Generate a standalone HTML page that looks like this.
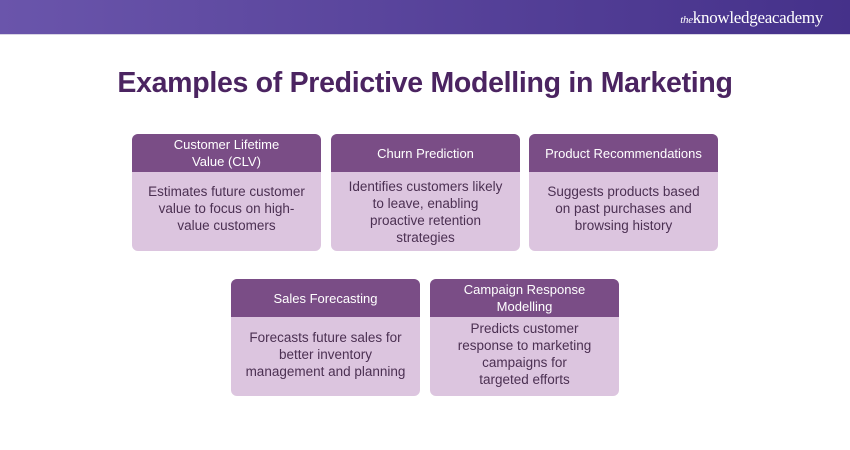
<!DOCTYPE html>
<html><head><meta charset="utf-8"><style>
*{margin:0;padding:0;box-sizing:border-box}
body{width:850px;height:450px;background:#fff;font-family:"Liberation Sans",sans-serif;position:relative;overflow:hidden}
.top{position:absolute;left:0;top:0;width:850px;height:35px;background:linear-gradient(90deg,#6a55ab,#45318a);border-bottom:1px solid #d8d4e4}
.logo{position:absolute;right:27px;top:8px;color:#fff;font-family:"Liberation Serif",serif;font-size:17px;letter-spacing:-0.3px}
.logo i{font-size:11px}
h1{position:absolute;left:0;width:850px;top:67px;text-align:center;font-size:28.5px;font-weight:bold;color:#4b2461;letter-spacing:-0.3px}
.card{position:absolute;width:189px;border-radius:6px;background:#dcc5df;overflow:hidden}
.hd{height:38px;background:#7a4d86;color:#fff;font-size:13px;display:flex;align-items:center;justify-content:center;text-align:center;line-height:17px;padding:0 4px}
.bd{color:#4b3052;font-size:13.5px;line-height:17px;text-align:center;padding:0 2px;white-space:nowrap}
</style></head><body>
<div class="top"><div class="logo"><i>the</i>knowledgeacademy</div></div>
<h1>Examples of Predictive Modelling in Marketing</h1>

<div class="card" style="left:132px;top:134px;height:117px"><div class="hd">Customer Lifetime<br>Value (CLV)</div><div class="bd" style="padding-top:11px">Estimates future customer<br>value to focus on high-<br>value customers</div></div>
<div class="card" style="left:331px;top:134px;height:117px"><div class="hd">Churn Prediction</div><div class="bd" style="padding-top:6px">Identifies customers likely<br>to leave, enabling<br>proactive retention<br>strategies</div></div>
<div class="card" style="left:529px;top:134px;height:117px"><div class="hd">Product Recommendations</div><div class="bd" style="padding-top:11px">Suggests products based<br>on past purchases and<br>browsing history</div></div>
<div class="card" style="left:231px;top:279px;height:117px"><div class="hd">Sales Forecasting</div><div class="bd" style="padding-top:12px">Forecasts future sales for<br>better inventory<br>management and planning</div></div>
<div class="card" style="left:430px;top:279px;height:117px"><div class="hd">Campaign Response<br>Modelling</div><div class="bd" style="padding-top:3px">Predicts customer<br>response to marketing<br>campaigns for<br>targeted efforts</div></div>
</body></html>
